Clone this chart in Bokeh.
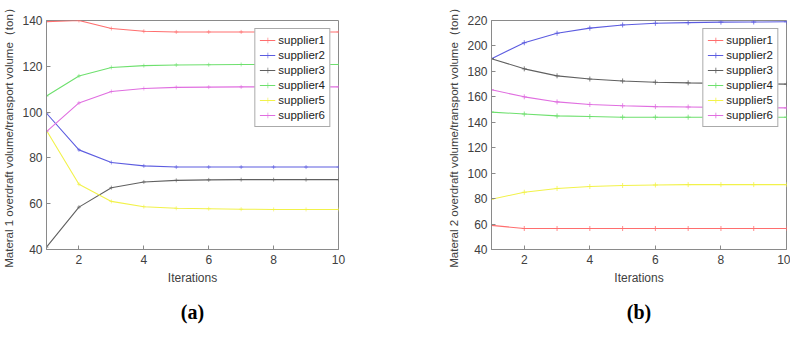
from bokeh.plotting import figure
from bokeh.layouts import row
from bokeh.models import Title, FixedTicker, Range1d
from bokeh.embed import file_html
from bokeh.resources import INLINE

iterations = [1, 2, 3, 4, 5, 6, 7, 8, 9, 10]
suppliers = ["supplier1", "supplier2", "supplier3", "supplier4", "supplier5", "supplier6"]
colors = ["#ff6e6e", "#5c5ce0", "#606060", "#6ee06e", "#f2f24a", "#e06ee0"]

# Material 1 (panel a)
m1_s1 = [139.5, 140.0, 136.5, 135.3, 135.0, 135.0, 135.0, 135.0, 135.0, 135.0]
m1_s2 = [99.5, 83.5, 78.0, 76.5, 76.0, 76.0, 76.0, 76.0, 76.0, 76.0]
m1_s3 = [41.0, 58.5, 67.0, 69.5, 70.2, 70.4, 70.5, 70.5, 70.5, 70.5]
m1_s4 = [107.0, 115.8, 119.5, 120.3, 120.6, 120.7, 120.8, 120.8, 120.8, 120.8]
m1_s5 = [92.0, 68.5, 61.0, 58.7, 58.0, 57.8, 57.6, 57.5, 57.5, 57.5]
m1_s6 = [91.5, 104.0, 109.0, 110.3, 110.8, 110.9, 111.0, 111.0, 111.0, 111.0]

# Material 2 (panel b)
m2_s1 = [59.0, 56.5, 56.5, 56.5, 56.5, 56.5, 56.5, 56.5, 56.5, 56.5]
m2_s2 = [190.0, 202.5, 210.0, 214.0, 216.5, 217.8, 218.3, 218.7, 218.8, 219.0]
m2_s3 = [190.0, 182.0, 176.5, 174.0, 172.5, 171.5, 171.0, 170.6, 170.3, 170.0]
m2_s4 = [148.0, 146.5, 145.0, 144.5, 144.0, 144.0, 144.0, 144.0, 144.0, 144.0]
m2_s5 = [79.5, 85.0, 88.0, 89.5, 90.3, 90.7, 91.0, 91.0, 91.0, 91.0]
m2_s6 = [165.5, 160.0, 156.0, 154.0, 153.0, 152.3, 152.0, 151.7, 151.5, 151.3]

x_ticks = [2, 4, 6, 8, 10]
y_ticks_a = [40, 60, 80, 100, 120, 140]
y_ticks_b = [40, 60, 80, 100, 120, 140, 160, 180, 200, 220]

TEXT = "#404040"
AXIS = "#8a8a8a"


def make_panel(series, ylabel, caption, ymin, ymax, yticks, width, bl, br, marker_size, mlw):
    p = figure(width=width, height=335, output_backend="svg", toolbar_location=None,
               x_range=Range1d(1, 10), y_range=Range1d(ymin, ymax),
               min_border_left=bl, min_border_right=br, min_border_top=20, min_border_bottom=86)
    p.grid.visible = False
    p.outline_line_color = AXIS
    p.background_fill_color = "white"
    p.border_fill_color = "white"
    for ys, name, c in zip(series, suppliers, colors):
        p.line(iterations, ys, line_color=c, line_width=1.1, legend_label=name)
        p.scatter(iterations, ys, marker="cross", size=marker_size, line_color=c,
                  line_width=mlw, legend_label=name)
    for ax in (p.xaxis[0], p.yaxis[0]):
        ax.axis_line_color = AXIS
        ax.major_tick_line_color = AXIS
        ax.major_tick_in = 4
        ax.major_tick_out = 0
        ax.minor_tick_line_color = None
        ax.major_label_text_font = "Liberation Sans"
        ax.major_label_text_font_size = "12px"
        ax.major_label_text_color = TEXT
        ax.axis_label_text_font = "Liberation Sans"
        ax.axis_label_text_font_size = "12px"
        ax.axis_label_text_font_style = "normal"
        ax.axis_label_text_color = TEXT
        ax.major_label_standoff = 5
        ax.axis_label_standoff = 4
    p.yaxis.axis_label_text_font_size = "11.5px"
    p.xaxis.ticker = FixedTicker(ticks=x_ticks)
    p.yaxis.ticker = FixedTicker(ticks=yticks)
    p.xaxis.axis_label = "Iterations"
    p.yaxis.axis_label = ylabel
    p.yaxis.major_label_standoff = 4

    lg = p.legend[0]
    lg.location = "top_right"
    lg.margin = 8
    lg.padding = 4
    lg.spacing = 1
    lg.label_height = 14
    lg.glyph_height = 14
    lg.glyph_width = 16
    lg.label_standoff = 3
    lg.label_text_font = "Liberation Sans"
    lg.label_text_font_size = "11.5px"
    lg.label_text_color = "#222222"
    lg.border_line_color = "#555555"
    lg.border_line_width = 1
    lg.background_fill_color = "white"
    lg.background_fill_alpha = 1.0

    t = Title(text=caption, align="center", text_font="Liberation Serif",
              text_font_style="bold", text_font_size="20px", text_color="#000000")
    if "standoff" in Title.properties():
        t.standoff = 22
    p.add_layout(t, "below")
    return p


pa = make_panel([m1_s1, m1_s2, m1_s3, m1_s4, m1_s5, m1_s6],
                "Materal 1 overdraft volume/transport volume\uff08ton\uff09", "(a)",
                40, 140, y_ticks_a, 400, 43, 62, 4, 0.6)
pb = make_panel([m2_s1, m2_s2, m2_s3, m2_s4, m2_s5, m2_s6],
                "Materal 2 overdraft volume/transport volume\uff08ton\uff09", "(b)",
                40, 220, y_ticks_b, 390, 91, 4, 5, 0.8)

layout = row(pa, pb)
open("out.html", "w").write(file_html(layout, INLINE))
